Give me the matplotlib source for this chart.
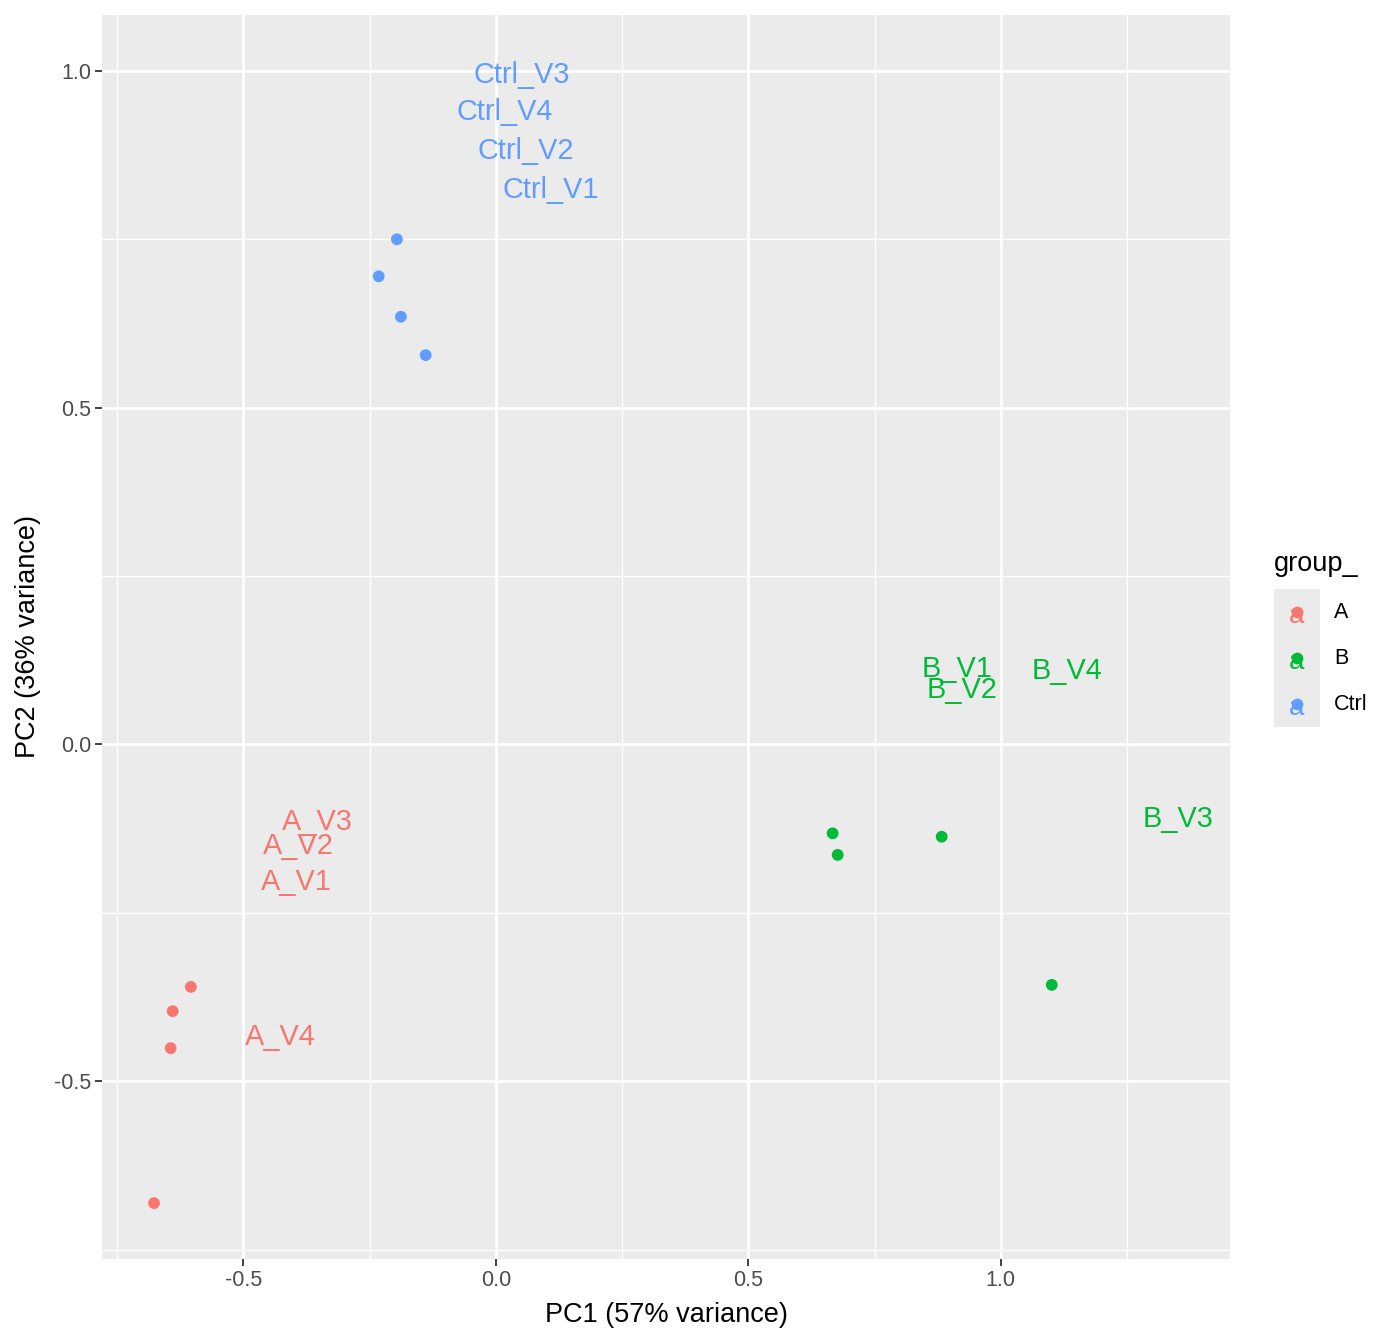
import matplotlib
matplotlib.use("Agg")
import matplotlib.pyplot as plt
from matplotlib.ticker import FixedLocator

plt.rcParams['font.family'] = ['Liberation Sans', 'DejaVu Sans']

# ---- data ----
groups = ["A", "B", "Ctrl"]
group_colors = ["#F8766D", "#00BA38", "#619CFF"]

pt_group = ["Ctrl", "Ctrl", "Ctrl", "Ctrl", "A", "A", "A", "A", "B", "B", "B", "B"]
pc1 = [-0.196, -0.232, -0.188, -0.139, -0.604, -0.640, -0.644, -0.677, 0.667, 0.677, 0.883, 1.101]
pc2 = [0.750, 0.695, 0.635, 0.578, -0.360, -0.396, -0.451, -0.681, -0.132, -0.164, -0.137, -0.357]

lab_text = ["Ctrl_V3", "Ctrl_V4", "Ctrl_V2", "Ctrl_V1", "A_V3", "A_V2", "A_V1", "A_V4",
            "B_V1", "B_V2", "B_V4", "B_V3"]
lab_group = ["Ctrl", "Ctrl", "Ctrl", "Ctrl", "A", "A", "A", "A", "B", "B", "B", "B"]
lab_x = [0.052, 0.017, 0.060, 0.108, -0.353, -0.391, -0.395, -0.427, 0.914, 0.924, 1.132, 1.351]
lab_y = [0.999, 0.944, 0.886, 0.828, -0.110, -0.147, -0.200, -0.430, 0.117, 0.086, 0.113, -0.107]

x_ticks = [-0.5, 0.0, 0.5, 1.0]
x_minor = [-0.75, -0.25, 0.25, 0.75, 1.25]
y_ticks = [-0.5, 0.0, 0.5, 1.0]
y_minor = [-0.75, -0.25, 0.25, 0.75]
x_label = "PC1 (57% variance)"
y_label = "PC2 (36% variance)"
legend_title = "group_"

# ---- figure ----
W, H = 1400, 1344
fig = plt.figure(figsize=(W / 100, H / 100), dpi=100)
pl, pr, pt, pb = 102, 1230, 15, 1259
ax = fig.add_axes([pl / W, 1 - pb / H, (pr - pl) / W, (pb - pt) / H])
ax.set_facecolor("#EBEBEB")
for s in ax.spines.values():
    s.set_visible(False)

ax.set_xlim(-0.780, 1.454)
ax.set_ylim(-0.764, 1.083)

ax.xaxis.set_major_locator(FixedLocator(x_ticks))
ax.xaxis.set_minor_locator(FixedLocator(x_minor))
ax.yaxis.set_major_locator(FixedLocator(y_ticks))
ax.yaxis.set_minor_locator(FixedLocator(y_minor))
ax.set_xticklabels([f"{v:.1f}" for v in x_ticks])
ax.set_yticklabels([f"{v:.1f}" for v in y_ticks])
ax.grid(which="major", color="white", linewidth=2.0)
ax.grid(which="minor", color="white", linewidth=1.0)
ax.set_axisbelow(True)
ax.tick_params(which="major", length=5, width=1.3, color="#333333",
               labelsize=15.5, labelcolor="#4D4D4D", pad=3)
ax.tick_params(which="minor", length=0)

cmap = dict(zip(groups, group_colors))
ax.scatter(pc1, pc2, c=[cmap[g] for g in pt_group], s=72, linewidths=0, zorder=3)
for t, g, x, y in zip(lab_text, lab_group, lab_x, lab_y):
    ax.text(x, y, t, color=cmap[g], fontsize=20.8, ha="center", va="center_baseline", zorder=4)

ax.set_xlabel(x_label, fontsize=19.5, color="black", labelpad=8)
ax.set_ylabel(y_label, fontsize=19.5, color="black", labelpad=9)

# ---- legend ----
fig.text(1274 / W, 1 - 564 / H, legend_title, fontsize=19.5, ha="left", va="center")
kl, kt, kw, kh = 1274, 589, 46, 46
lax = fig.add_axes([kl / W, 1 - (kt + kh * len(groups)) / H, kw / W, kh * len(groups) / H])
lax.set_facecolor("#EBEBEB")
lax.set_xlim(0, 1)
lax.set_ylim(0, len(groups))
lax.set_xticks([])
lax.set_yticks([])
for s in lax.spines.values():
    s.set_visible(False)
for i, (g, c) in enumerate(zip(groups, group_colors)):
    yy = len(groups) - i - 0.5
    lax.text(0.5, yy - 0.08, "a", color=c, fontsize=20, ha="center", va="center")
    lax.scatter([0.5], [yy], color=c, s=72, linewidths=0, zorder=3)
    fig.text(1334 / W, 1 - (kt + kh * i + kh / 2 + 1) / H, g, fontsize=15.5, ha="left", va="center")

fig.savefig("out.png", dpi=100)
